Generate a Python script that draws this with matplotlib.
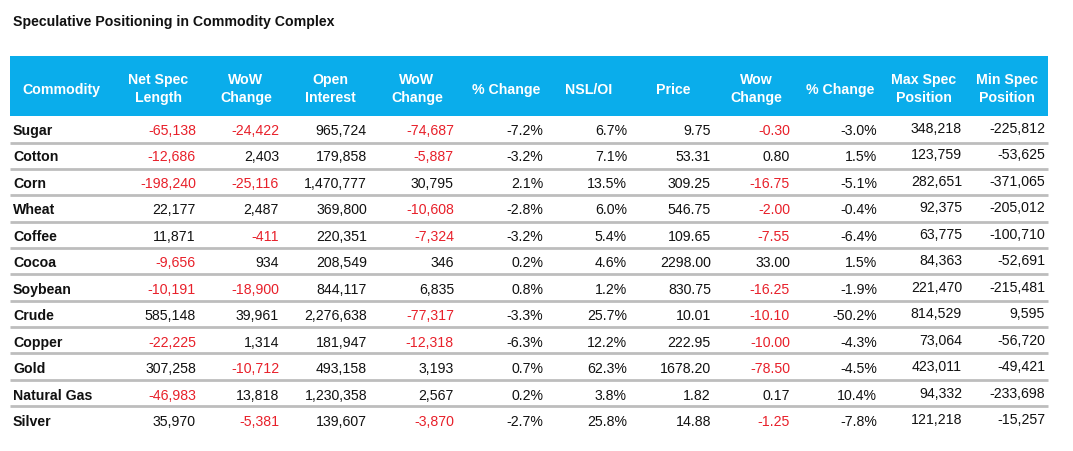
from matplotlib import pyplot as plt
from matplotlib.patches import Rectangle

plt.rcParams['font.family'] = ['Liberation Sans', 'DejaVu Sans']

title = "Speculative Positioning in Commodity Complex"

headers = ["Commodity", "Net Spec\nLength", "WoW\nChange", "Open\nInterest", "WoW\nChange",
           "% Change", "NSL/OI", "Price", "Wow\nChange", "% Change", "Max Spec\nPosition", "Min Spec\nPosition"]

commodities = ["Sugar", "Cotton", "Corn", "Wheat", "Coffee", "Cocoa", "Soybean", "Crude",
               "Copper", "Gold", "Natural Gas", "Silver"]

net_spec = [-65138, -12686, -198240, 22177, 11871, -9656, -10191, 585148, -22225, 307258, -46983, 35970]
wow_net = [-24422, 2403, -25116, 2487, -411, 934, -18900, 39961, 1314, -10712, 13818, -5381]
open_interest = [965724, 179858, 1470777, 369800, 220351, 208549, 844117, 2276638, 181947, 493158, 1230358, 139607]
wow_oi = [-74687, -5887, 30795, -10608, -7324, 346, 6835, -77317, -12318, 3193, 2567, -3870]
pct_oi = [-7.2, -3.2, 2.1, -2.8, -3.2, 0.2, 0.8, -3.3, -6.3, 0.7, 0.2, -2.7]
nsl_oi = [6.7, 7.1, 13.5, 6.0, 5.4, 4.6, 1.2, 25.7, 12.2, 62.3, 3.8, 25.8]
price = [9.75, 53.31, 309.25, 546.75, 109.65, 2298.00, 830.75, 10.01, 222.95, 1678.20, 1.82, 14.88]
wow_price = [-0.30, 0.80, -16.75, -2.00, -7.55, 33.00, -16.25, -10.10, -10.00, -78.50, 0.17, -1.25]
pct_price = [-3.0, 1.5, -5.1, -0.4, -6.4, 1.5, -1.9, -50.2, -4.3, -4.5, 10.4, -7.8]
max_spec = [348218, 123759, 282651, 92375, 63775, 84363, 221470, 814529, 73064, 423011, 94332, 121218]
min_spec = [-225812, -53625, -371065, -205012, -100710, -52691, -215481, 9595, -56720, -49421, -233698, -15257]

blue = '#0AADEB'
red = '#E8202A'
ink = '#111111'
fs = 10.2

# columns: values, format, red-if-negative, right edge (px), y shift
columns = [
    (net_spec, "{:,}", True, 196, 0),
    (wow_net, "{:,}", True, 279, 0),
    (open_interest, "{:,}", False, 367, 0),
    (wow_oi, "{:,}", True, 454, 0),
    (pct_oi, "{:.1f}%", False, 543, 0),
    (nsl_oi, "{:.1f}%", False, 627, 0),
    (price, "{:.2f}", False, 711, 0),
    (wow_price, "{:.2f}", True, 790, 0),
    (pct_price, "{:.1f}%", False, 877, 0),
    (max_spec, "{:,}", False, 962, -2),
    (min_spec, "{:,}", False, 1045, -2),
]
header_x = [61, 158, 246, 330, 417, 506, 589, 673, 756, 840, 924, 1007]

W, H = 1073, 452
fig = plt.figure(figsize=(W / 100, H / 100), dpi=100)
ax = fig.add_axes([0, 0, 1, 1])
ax.set_xlim(0, W)
ax.set_ylim(H, 0)
ax.axis('off')

ax.text(13, 26, title, fontsize=fs, fontweight='bold', color=ink, ha='left', va='baseline')

# header band
ax.add_patch(Rectangle((10, 57), 1038, 60, color=blue, lw=0))
for x, h in zip(header_x, headers):
    lines = h.split("\n")
    ys = [94.3] if len(lines) == 1 else [84, 102.3]
    for y, t in zip(ys, lines):
        ax.text(x, y, t, fontsize=fs, fontweight='bold', color='white', ha='center', va='baseline')

# row separators
n = len(commodities)
for k in range(n - 1):
    ax.plot([10, 1048], [143.5 + 26.35 * k] * 2, color='#BDBDBD', lw=2.0, solid_capstyle='butt')

# body
for i, name in enumerate(commodities):
    y = 135 + 26.5 * i
    ax.text(13, y, name, fontsize=fs, fontweight='bold', color=ink, ha='left', va='baseline')
    for vals, fmt, neg_red, xr, dy in columns:
        v = vals[i]
        c = red if (neg_red and v < 0) else ink
        ax.text(xr, y + dy, fmt.format(v), fontsize=fs, color=c, ha='right', va='baseline')

fig.savefig("out.png", dpi=100, facecolor='white')
